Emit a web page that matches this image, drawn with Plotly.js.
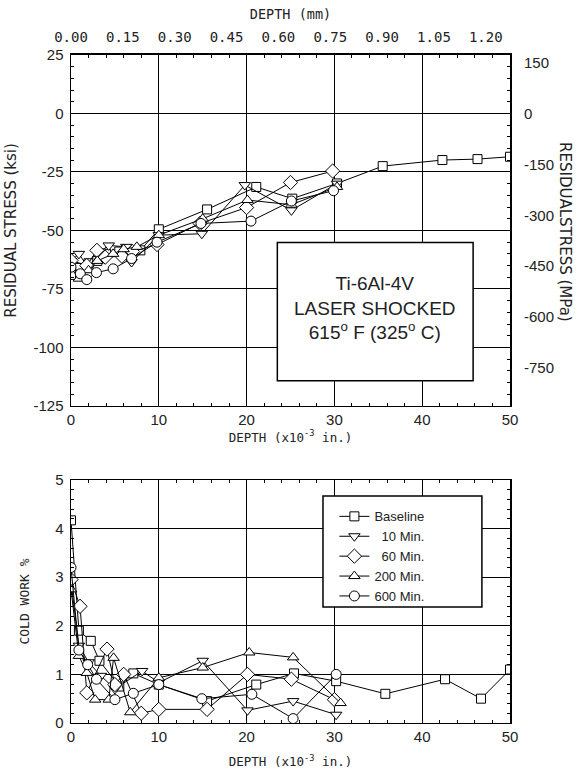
<!DOCTYPE html>
<html><head>
<meta charset="utf-8">
<script src="https://cdn.plot.ly/plotly-3.0.1.min.js"></script>
</head>
<body style="margin:0;background:#fff">
<div id="chart" style="width:577px;height:781px"></div>
<script>
// ---- series names / legend labels ----
const seriesNames = ['Baseline', '10 Min.', '60 Min.', '200 Min.', '600 Min.'];
const legendLabels = ['Baseline', '\u00a0\u00a010 Min.', '\u00a0\u00a060 Min.', '200 Min.', '600 Min.'];
const seriesSymbols = ['square', 'triangle-down', 'diamond', 'triangle-up', 'circle'];

// ---- residual stress (ksi) vs depth (x10^-3 in.) ----
const rsBaselineX = [0, 1, 2, 3, 4, 5.5, 7.9, 10, 15.5, 21.1, 25.2, 30.3, 35.5, 42.3, 46.3, 50];
const rsBaselineY = [-69, -66, -64, -63, -60, -59, -58.5, -49.5, -41, -31.4, -36.4, -29.9, -22.5, -19.9, -19.5, -18.5];
const rs10X = [0, 0.9, 2, 3.3, 4.3, 6.3, 6.9, 10, 14.9, 19.8, 25.1, 30.3];
const rs10Y = [-63, -60, -66, -59, -56.4, -57, -63.5, -52, -51.4, -30.6, -41.4, -30];
const rs60X = [0, 1.8, 2.95, 3.9, 5.8, 7, 9.8, 14.7, 20, 25, 29.8];
const rs60Y = [-62.8, -65, -58.5, -61.4, -61, -59, -56, -47, -40.2, -29.5, -24.6];
const rs200X = [0, 0.9, 2, 3, 4.8, 6, 7.5, 10, 15, 20.1, 25.1, 30.3];
const rs200Y = [-66, -70.6, -67, -63, -60, -58, -57, -52, -45, -37, -39, -31.4];
const rs600X = [0, 1.06, 1.8, 2.9, 4.8, 6.9, 9.8, 14.8, 20.5, 25.1, 29.9];
const rs600Y = [-65.7, -68.5, -71, -68, -66.4, -62, -55, -47, -46, -37.4, -33];

// ---- cold work (%) vs depth (x10^-3 in.) ----
const cwBaselineX = [0, 0.9, 2.25, 3.24, 5.5, 7.1, 10, 15.5, 21.1, 25.4, 30.2, 35.8, 42.6, 46.7, 50];
const cwBaselineY = [4.17, 1.9, 1.69, 1.28, 0.75, 1.02, 0.79, 0.45, 0.79, 1.02, 0.86, 0.6, 0.9, 0.5, 1.1];
const cw10X = [0, 0.9, 2, 3.4, 5, 8.1, 10, 15, 20.1, 25.3, 30.2];
const cw10Y = [2.9, 1.59, 1.25, 0.97, 0.7, 1.07, 0.83, 1.28, 0.26, 0.45, 0.17];
const cw60X = [0, 1.03, 1.8, 4.1, 5.0, 6.0, 8, 10, 15.5, 20.1, 25.1, 30];
const cw60Y = [2.95, 2.4, 0.62, 1.52, 0.79, 1.0, 0.2, 0.28, 0.28, 1.0, 0.9, 0.48];
const cw200X = [0, 0.9, 1.8, 2.75, 4.3, 4.85, 6.75, 10, 15, 20.3, 25.3, 30.7];
const cw200Y = [2.75, 1.38, 1.03, 0.48, 0.48, 1.34, 0.22, 0.93, 1.14, 1.45, 1.35, 0.41];
const cw600X = [0, 0.9, 1.9, 2.9, 5.0, 7.1, 10, 14.9, 20.6, 25.3, 30.2];
const cw600Y = [3.2, 1.5, 1.2, 0.9, 0.48, 0.61, 0.79, 0.5, 0.59, 0.09, 1.0];

// ---- tick labels ----
const depthTickVals = [0, 10, 20, 30, 40, 50];
const ksiTickVals = [-125, -100, -75, -50, -25, 0, 25];
const ksiTickText = ['-125', '-100', '-75', '-50', '-25', '0', '25'];
const cwTickVals = [0, 1, 2, 3, 4, 5];
const mmTickVals = [0, 0.15, 0.30, 0.45, 0.60, 0.75, 0.90, 1.05, 1.20];
const mmTickText = ['0.00', '0.15', '0.30', '0.45', '0.60', '0.75', '0.90', '1.05', '1.20'];
const mpaTickVals = [150, 0, -150, -300, -450, -600, -750];
const mpaTickText = ['150', '0', '-150', '-300', '-450', '-600', '-750'];
const boxText = ['Ti-6Al-4V', 'LASER SHOCKED', '615<sup>o</sup> F (325<sup>o</sup> C)'];

const KSI_TO_MPA = 6.895;
const IN_TO_MM = 0.0254;

const rsX = [rsBaselineX, rs10X, rs60X, rs200X, rs600X];
const rsY = [rsBaselineY, rs10Y, rs60Y, rs200Y, rs600Y];
const cwX = [cwBaselineX, cw10X, cw60X, cw200X, cw600X];
const cwY = [cwBaselineY, cw10Y, cw60Y, cw200Y, cw600Y];
const symSizes = [9, 10, 11, 10, 10];

const traces = [];
for (let i = 0; i < 5; i++) {
  traces.push({
    x: rsX[i], y: rsY[i], xaxis: 'x', yaxis: 'y', type: 'scatter', mode: 'lines+markers',
    name: seriesNames[i], showlegend: false,
    line: {color: '#000', width: 1},
    marker: {symbol: seriesSymbols[i], size: symSizes[i], color: '#fff', line: {color: '#000', width: 1}}
  });
}
for (let i = 0; i < 5; i++) {
  traces.push({
    x: cwX[i], y: cwY[i], xaxis: 'x2', yaxis: 'y2', type: 'scatter', mode: 'lines+markers',
    name: legendLabels[i], showlegend: true,
    line: {color: '#000', width: 1},
    marker: {symbol: seriesSymbols[i], size: symSizes[i], color: '#fff', line: {color: '#000', width: 1}}
  });
}
// carriers for the secondary (mm / MPa) axes
traces.push({x: [], y: [], xaxis: 'x3', yaxis: 'y3', type: 'scatter', mode: 'markers', showlegend: false, hoverinfo: 'skip'});

const F = 'Liberation Sans, Arial, sans-serif';
const M = 'DejaVu Sans Mono, monospace';
const D = 'DejaVu Sans, sans-serif';
const TXT = '#222';

function xAx(extra) {
  return Object.assign({
    range: [0, 50], tickvals: depthTickVals, showgrid: true, gridcolor: '#000', gridwidth: 1,
    zeroline: false, ticks: 'inside', ticklen: 5, tickcolor: '#000',
    minor: {dtick: 2, ticks: 'inside', ticklen: 3, tickcolor: '#000', showgrid: false},
    showline: true, linecolor: '#000', linewidth: 1.5, mirror: 'allticks',
    tickfont: {family: F, size: 15, color: TXT}, automargin: false, fixedrange: true
  }, extra);
}
function yAx(extra) {
  return Object.assign({
    showgrid: true, gridcolor: '#000', gridwidth: 1, zeroline: false,
    ticks: 'inside', ticklen: 5, tickcolor: '#000',
    showline: true, linecolor: '#000', linewidth: 1.5, mirror: 'allticks',
    tickfont: {family: F, size: 15, color: TXT}, automargin: false, fixedrange: true
  }, extra);
}

const layout = {
  width: 577, height: 781,
  margin: {l: 71, r: 67, t: 0, b: 0},
  paper_bgcolor: '#fff', plot_bgcolor: '#fff',
  font: {family: F, color: TXT},
  xaxis: xAx({anchor: 'y', domain: [0, 1],
    title: {text: 'DEPTH (x10<sup>-3</sup> in.)', font: {family: M, size: 12.5, color: TXT}, standoff: 4}}),
  yaxis: yAx({anchor: 'x', domain: [0.4802, 0.9296], range: [-125, 25], tickvals: ksiTickVals, ticktext: ksiTickText,
    ticklabelstandoff: 3,
    minor: {dtick: 5, ticks: 'inside', ticklen: 3, tickcolor: '#000', showgrid: false},
    title: {text: 'RESIDUAL STRESS (ksi)', font: {family: D, size: 15, color: TXT}, standoff: 13}}),
  xaxis3: {overlaying: 'x', anchor: 'y', side: 'top', range: [0, 50 * IN_TO_MM], tickvals: mmTickVals, ticktext: mmTickText,
    ticks: '', showgrid: false, zeroline: false, showline: false, automargin: false, fixedrange: true,
    ticklabelstandoff: 9,
    tickfont: {family: M, size: 14, color: TXT},
    title: {text: 'DEPTH (mm)', font: {family: M, size: 13.5, color: TXT}, standoff: 6}},
  yaxis3: {overlaying: 'y', anchor: 'x', side: 'right', range: [-125 * KSI_TO_MPA, 25 * KSI_TO_MPA],
    tickvals: mpaTickVals, ticktext: mpaTickText,
    ticks: '', showgrid: false, zeroline: false, showline: false, automargin: false, fixedrange: true,
    ticklabelstandoff: 13,
    tickfont: {family: F, size: 15, color: TXT}},
  xaxis2: xAx({anchor: 'y2', domain: [0, 1],
    title: {text: 'DEPTH (x10<sup>-3</sup> in.)', font: {family: M, size: 12.5, color: TXT}, standoff: 13}}),
  yaxis2: yAx({anchor: 'x2', domain: [0.0743, 0.3854], range: [0, 5], tickvals: cwTickVals,
    ticklabelstandoff: 3,
    minor: {dtick: 0.2, ticks: 'inside', ticklen: 3, tickcolor: '#000', showgrid: false},
    title: {text: 'COLD WORK %', font: {family: M, size: 13, color: TXT}, standoff: 22}}),
  legend: {x: 0.60, y: 0.358, xanchor: 'left', yanchor: 'top', bgcolor: 'rgba(0,0,0,0)', borderwidth: 0,
    font: {family: F, size: 13, color: TXT}, tracegroupgap: 0},
  shapes: [
    {type: 'rect', xref: 'x', yref: 'y', x0: 23.5, x1: 45.8, y0: -114.2, y1: -55.1,
     line: {color: '#000', width: 1.5}, fillcolor: '#fff', layer: 'above'},
    {type: 'rect', xref: 'paper', yref: 'paper', x0: 0.574, x1: 0.936, y0: 0.2228, y1: 0.3649,
     line: {color: '#000', width: 1.5}, fillcolor: '#fff', layer: 'above'}
  ],
  annotations: [
    {xref: 'x', yref: 'y', x: 34.65, y: -83, text: boxText.join('<br>'), showarrow: false,
     xanchor: 'center', yanchor: 'middle',
     font: {family: F, size: 19, color: TXT}, align: 'center'},
    {xref: 'paper', yref: 'paper', x: 1.125, y: 0.703, xanchor: 'center', yanchor: 'middle',
     text: 'RESIDUALSTRESS (MPa)', textangle: 90, showarrow: false,
     font: {family: D, size: 15, color: TXT}}
  ]
};

Plotly.newPlot('chart', traces, layout, {staticPlot: true, displayModeBar: false});
</script>
</body></html>
